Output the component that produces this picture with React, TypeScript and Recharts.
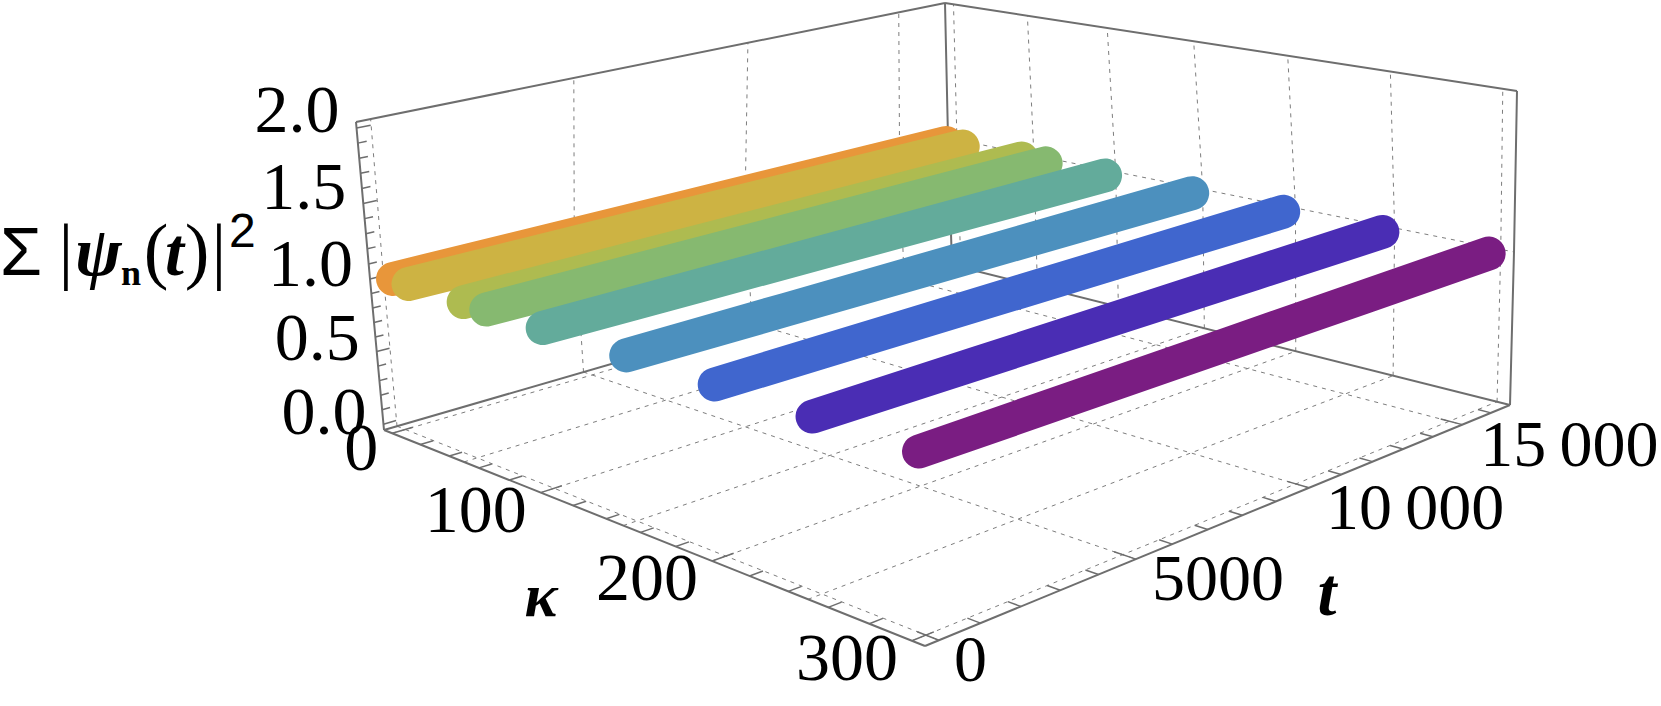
import React from 'react';
import { ComposedChart, Line, Scatter, XAxis, YAxis } from 'recharts';

// what the plot shows: total norm against coupling and time
const kappaValues = [1, 12, 50, 65, 101, 151, 200, 250, 300];
const timeSamples = [0, 4000, 8000, 12000, 16250];
const normValues = [1, 1, 1, 1, 1];
const seriesColors = ['#E8963A', '#CDB343', '#AEBB50', '#86B970', '#63AB9B', '#4C90BE', '#4066CE', '#4A2DB4', '#7A1D82'];

const kappaTicks = [0, 100, 200, 300];
const timeTicks = [0, 5000, 10000, 15000];
const normTicks = [0, 0.5, 1, 1.5, 2];
const timeTickLabels = ['0', '5000', '10\u2009000', '15\u2009000'];
const normTickLabels = ['0.0', '0.5', '1.0', '1.5', '2.0'];

const kappaGrid = [0, 50, 100, 150, 200, 250, 300];
const kappaMinor = [0, 20, 40, 60, 80, 100, 120, 140, 160, 180, 200, 220, 240, 260, 280, 300];
const timeMinor = [0, 1000, 2000, 3000, 4000, 5000, 6000, 7000, 8000, 9000, 10000, 11000, 12000, 13000, 14000, 15000, 16000];
const normMinor = [0, 0.1, 0.2, 0.3, 0.4, 0.5, 0.6, 0.7, 0.8, 0.9, 1, 1.1, 1.2, 1.3, 1.4, 1.5, 1.6, 1.7, 1.8, 1.9, 2];

const W = 1661;
const H = 706;
const K = [-6, 306];
const T = [-330, 16680];
const Z = [-0.04, 2.04];

type P = [number, number];

// unit square -> quad (left, front, right, back)
const quadMap = (a: P, b: P, c: P, d: P) => {
  const dx1 = b[0] - c[0], dx2 = d[0] - c[0], sx = a[0] - b[0] + c[0] - d[0];
  const dy1 = b[1] - c[1], dy2 = d[1] - c[1], sy = a[1] - b[1] + c[1] - d[1];
  const den = dx1 * dy2 - dx2 * dy1;
  const g = (sx * dy2 - dx2 * sy) / den;
  const h = (dx1 * sy - sx * dy1) / den;
  return (u: number, v: number): P => {
    const w = g * u + h * v + 1;
    return [
      ((b[0] - a[0] + g * b[0]) * u + (d[0] - a[0] + h * d[0]) * v + a[0]) / w,
      ((b[1] - a[1] + g * b[1]) * u + (d[1] - a[1] + h * d[1]) * v + a[1]) / w,
    ];
  };
};

// box at z min, halfway and z max
const floor = quadMap([384, 430], [925, 646], [1510, 405], [952, 265]);
const mid = quadMap([370, 279], [918, 461], [1514, 252], [948, 138]);
const roof = quadMap([356, 122], [912, 296], [1517, 91], [945, 3]);

const project = (kappa: number, t: number, z: number) => {
  const u = (kappa - K[0]) / (K[1] - K[0]);
  const v = (t - T[0]) / (T[1] - T[0]);
  const s = (z - Z[0]) / (Z[1] - Z[0]);
  const a = s < 0.5 ? floor(u, v) : mid(u, v);
  const b = s < 0.5 ? mid(u, v) : roof(u, v);
  const f = s < 0.5 ? s * 2 : s * 2 - 1;
  return { x: a[0] + (b[0] - a[0]) * f, y: a[1] + (b[1] - a[1]) * f };
};

const Seg = (pts: { x: number; y: number }[], key: string, color: string, width: number, dash?: string) => (
  <Line
    key={key}
    data={pts}
    dataKey="y"
    type="linear"
    stroke={color}
    strokeWidth={width}
    strokeDasharray={dash}
    dot={false}
    activeDot={false}
    legendType="none"
    isAnimationActive={false}
  />
);

const GRID = '#7d7d7d';
const EDGE = '#6e6e6e';
const DASH = '4 5';

const TextMark = (props: any) => {
  const { cx, cy, payload } = props;
  return (
    <text
      x={cx}
      y={cy}
      textAnchor={payload.anchor}
      fontFamily={payload.sans ? "'Liberation Sans', sans-serif" : "'Liberation Serif', serif"}
      fontSize={payload.size || 68}
      fontWeight={payload.bold ? 700 : 400}
      fontStyle={payload.italic ? 'italic' : 'normal'}
      fill="#000"
    >
      {payload.text}
    </text>
  );
};

const App = () => {
  const edges = [
    [[K[0], T[0], Z[0]], [K[1], T[0], Z[0]]],
    [[K[1], T[0], Z[0]], [K[1], T[1], Z[0]]],
    [[K[1], T[1], Z[0]], [K[0], T[1], Z[0]]],
    [[K[0], T[1], Z[0]], [K[0], T[0], Z[0]]],
    [[K[0], T[0], Z[0]], [K[0], T[0], 1], [K[0], T[0], Z[1]]],
    [[K[0], T[1], Z[0]], [K[0], T[1], 1], [K[0], T[1], Z[1]]],
    [[K[1], T[1], Z[0]], [K[1], T[1], 1], [K[1], T[1], Z[1]]],
    [[K[0], T[0], Z[1]], [K[0], T[1], Z[1]]],
    [[K[0], T[1], Z[1]], [K[1], T[1], Z[1]]],
  ];

  const labels = [
    ...normTicks.map((z, i) => {
      const p = project(K[0], T[0], z);
      return { x: p.x - 17, y: p.y + 4 + (2 - z) * 3, text: normTickLabels[i], anchor: 'end' };
    }),
    ...kappaTicks.map(k => {
      const p = project(k, T[0], Z[0]);
      return { x: p.x - 14, y: p.y + (k === 0 ? 37 : 39), text: String(k), anchor: 'end' };
    }),
    ...timeTicks.map((t, i) => {
      const p = project(K[1], t, Z[0]);
      return { x: p.x + 15 + t * 0.0002, y: p.y + 41, text: timeTickLabels[i], anchor: 'start', size: 66 };
    }),
    { x: 541, y: 616, text: '\u03BA', anchor: 'middle', bold: true, italic: true, size: 62 },
    { x: 1327, y: 615, text: 't', anchor: 'middle', bold: true, italic: true },
  ];

  const titleParts = [
    { x: 0, y: 275, text: '\u03A3', anchor: 'start', sans: true },
    { x: 66, y: 275, text: '|', anchor: 'middle', size: 74 },
    { x: 75, y: 275, text: '\u03C8', anchor: 'start', bold: true, italic: true, size: 70 },
    { x: 121, y: 285, text: 'n', anchor: 'start', bold: true, size: 36 },
    { x: 156, y: 275, text: '(', anchor: 'middle', size: 74 },
    { x: 165, y: 275, text: 't', anchor: 'start', bold: true, italic: true },
    { x: 197, y: 275, text: ')', anchor: 'middle', size: 74 },
    { x: 219, y: 275, text: '|', anchor: 'middle', size: 74 },
    { x: 229, y: 247, text: '2', anchor: 'start', size: 48, sans: true },
  ];

  return (
    <div style={{ position: 'absolute', left: 0, top: 0, background: '#fff' }}>
      <ComposedChart width={W} height={H} margin={{ top: 0, right: 0, bottom: 0, left: 0 }}>
        <XAxis type="number" dataKey="x" domain={[0, W]} hide />
        <YAxis type="number" dataKey="y" domain={[0, H]} reversed hide />

        {/* wall and floor grids */}
        {kappaGrid.map(k => Seg([project(k, T[1], Z[0]), project(k, T[1], 1), project(k, T[1], Z[1])], `wall-k-${k}`, GRID, 1, DASH))}
        {timeTicks.map(t => Seg([project(K[0], t, Z[0]), project(K[0], t, 1), project(K[0], t, Z[1])], `wall-t-${t}`, GRID, 1, DASH))}
        {Seg([project(K[0], T[1], 1), project(K[1], T[1], 1)], 'wall-z', GRID, 1, DASH)}
        {kappaGrid.map(k => Seg([project(k, T[0], Z[0]), project(k, T[1], Z[0])], `floor-k-${k}`, GRID, 1, DASH))}
        {timeTicks.map(t => Seg([project(K[0], t, Z[0]), project(K[1], t, Z[0])], `floor-t-${t}`, GRID, 1, DASH))}

        {/* box */}
        {edges.map((e, i) => Seg(e.map(c => project(c[0], c[1], c[2])), `edge-${i}`, EDGE, 2))}

        {/* tick marks */}
        {kappaMinor.map(k => Seg([project(k, T[0], Z[0]), project(k, T[0] + (k % 100 === 0 ? 520 : 320), Z[0])], `tk-${k}`, EDGE, 1.5))}
        {timeMinor.map(t => Seg([project(K[1], t, Z[0]), project(K[1] - (t % 5000 === 0 ? 10 : 6), t, Z[0])], `tt-${t}`, EDGE, 1.5))}
        {normMinor.map(z => Seg([project(K[0], T[0], z), project(K[0], T[0] + (Math.round(z * 10) % 5 === 0 ? 320 : 200), z)], `tz-${z}`, EDGE, 1.5))}

        {/* one thick band per kappa */}
        {kappaValues.map((k, i) => (
          <Line
            key={`series-${k}`}
            data={timeSamples.map((t, j) => project(k, t, normValues[j]))}
            dataKey="y"
            type="linear"
            stroke={seriesColors[i]}
            strokeWidth={34}
            strokeLinecap="round"
            strokeLinejoin="round"
            dot={false}
            activeDot={false}
            isAnimationActive={false}
          />
        ))}

        <Scatter data={labels} shape={TextMark} isAnimationActive={false} />
        <Scatter data={titleParts} shape={TextMark} isAnimationActive={false} />
      </ComposedChart>
    </div>
  );
};

export default App;
